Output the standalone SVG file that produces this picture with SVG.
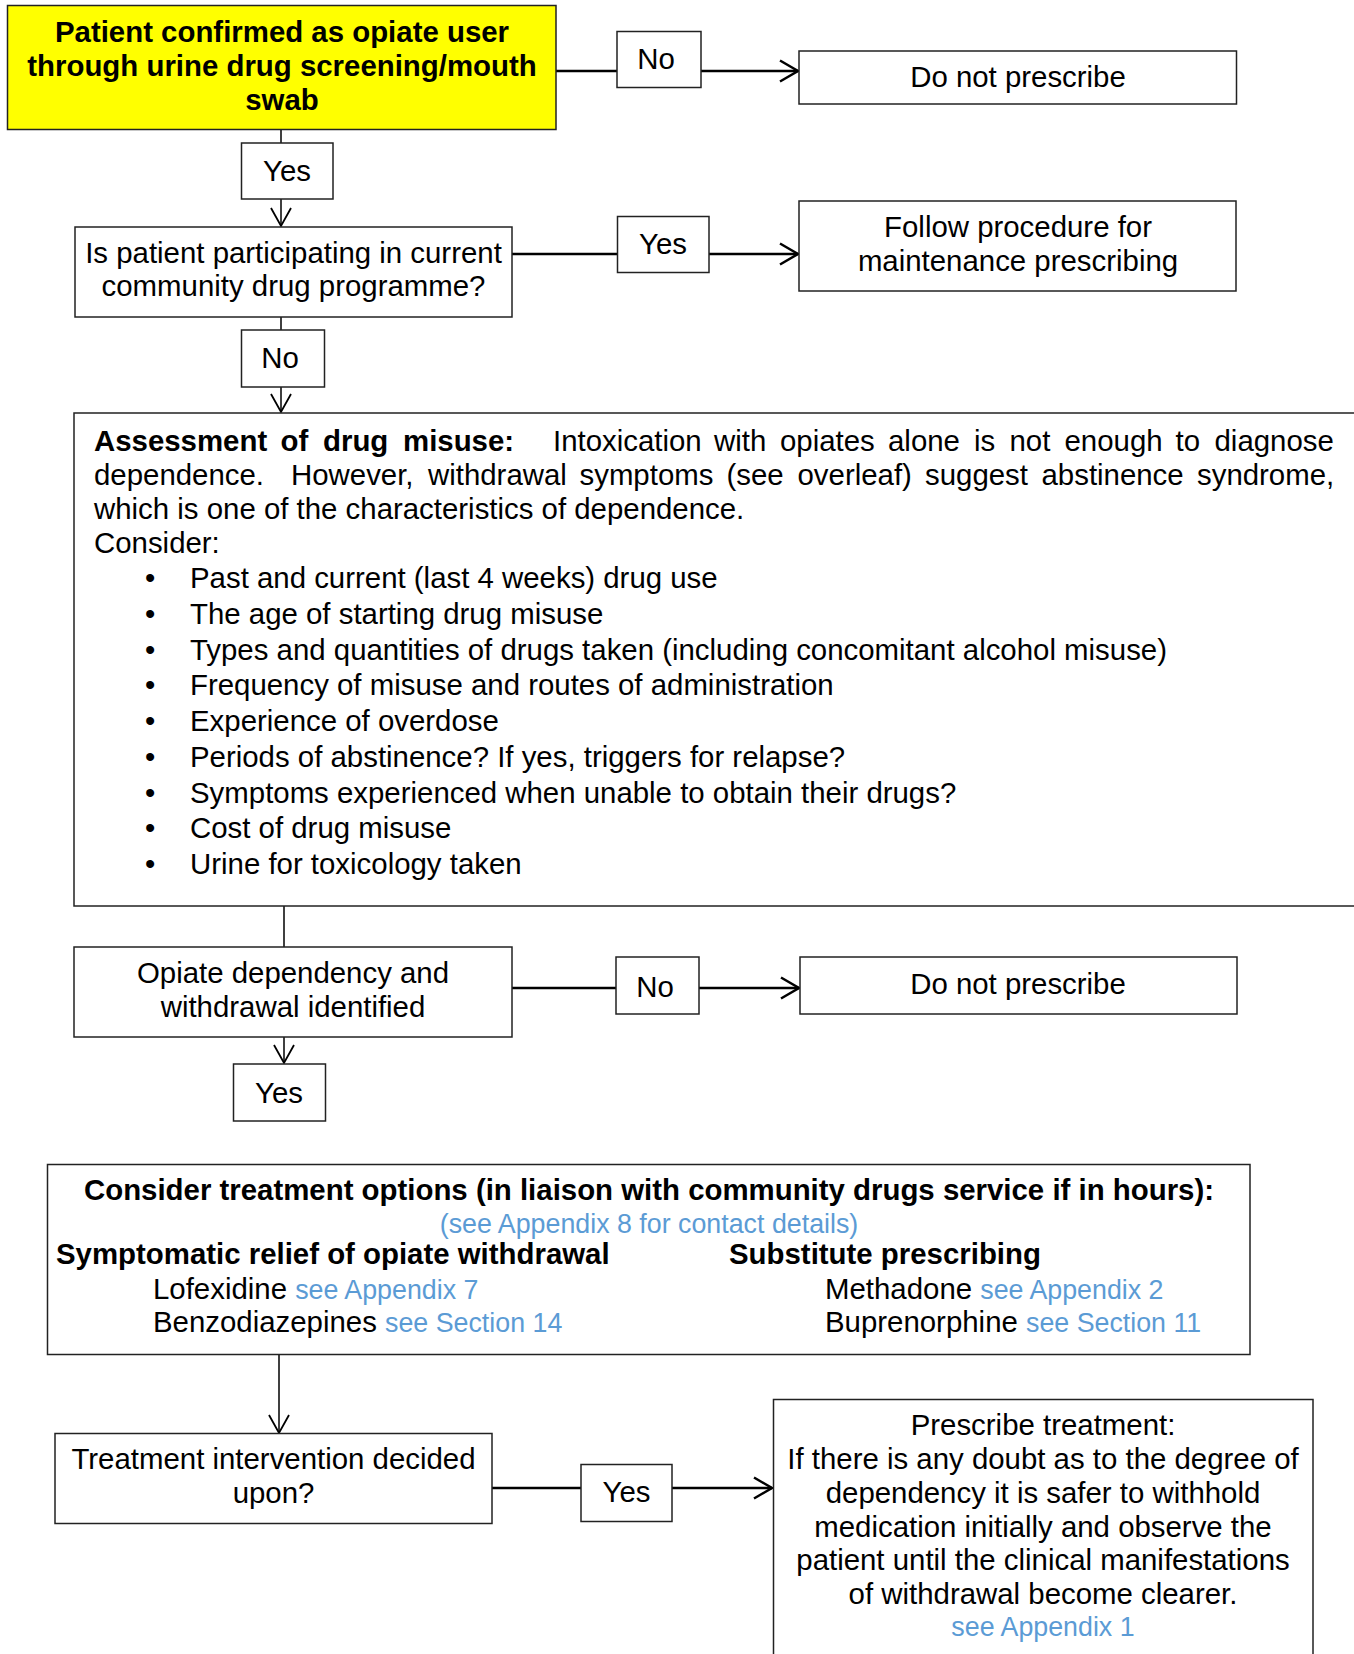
<svg xmlns="http://www.w3.org/2000/svg" width="1354" height="1654" viewBox="0 0 1354 1654">
<style>
text{font-family:"Liberation Sans",Arial,sans-serif;font-size:29.4px;fill:#000}
.c{text-anchor:middle}
.b{font-weight:bold}
.lk{fill:#5b9bd5;font-size:26.8px}
.box{fill:#fff;stroke:#222;stroke-width:1.5}
.hl{fill:none;stroke:#000;stroke-width:2.5}
.vl{fill:none;stroke:#000;stroke-width:1.5}
</style>
<defs>
<marker id="ah" markerUnits="userSpaceOnUse" markerWidth="22" markerHeight="24" refX="18" refY="11" orient="auto" overflow="visible">
<path d="M0,0.5 L18,11 L0,21.5" fill="none" stroke="#000" stroke-width="2.5"/>
</marker>
<marker id="av" markerUnits="userSpaceOnUse" markerWidth="22" markerHeight="24" refX="18" refY="10" orient="auto" overflow="visible">
<path d="M0,0 L18,10 L0,20" fill="none" stroke="#000" stroke-width="1.8"/>
</marker>
</defs>
<rect width="1354" height="1654" fill="#fff"/>

<g id="connectors">
<line class="hl" x1="556" y1="71" x2="617" y2="71"/>
<line class="hl" x1="701" y1="71" x2="798" y2="71" marker-end="url(#ah)"/>
<line class="vl" x1="281" y1="130" x2="281" y2="143"/>
<line class="vl" x1="281" y1="199" x2="281" y2="226" marker-end="url(#av)"/>
<line class="hl" x1="512" y1="254" x2="617" y2="254"/>
<line class="hl" x1="709" y1="254" x2="798" y2="254" marker-end="url(#ah)"/>
<line class="vl" x1="281" y1="317" x2="281" y2="330"/>
<line class="vl" x1="281" y1="387" x2="281" y2="412" marker-end="url(#av)"/>
<line class="vl" x1="284" y1="906" x2="284" y2="947"/>
<line class="hl" x1="512" y1="988" x2="616" y2="988"/>
<line class="hl" x1="699" y1="988" x2="799" y2="988" marker-end="url(#ah)"/>
<line class="vl" x1="284" y1="1037" x2="284" y2="1063" marker-end="url(#av)"/>
<line class="vl" x1="279" y1="1355" x2="279" y2="1433" marker-end="url(#av)"/>
<line class="hl" x1="492" y1="1488" x2="581" y2="1488"/>
<line class="hl" x1="672" y1="1488" x2="772" y2="1488" marker-end="url(#ah)"/>
</g>

<g id="start">
<rect x="7.5" y="5.5" width="548.5" height="124" fill="#ffff00" stroke="#222" stroke-width="1.5"/>
<text class="c b" x="282" y="42">Patient confirmed as opiate user</text>
<text class="c b" x="282" y="76">through urine drug screening/mouth</text>
<text class="c b" x="282" y="110">swab</text>
</g>

<g id="lbl-no1">
<rect class="box" x="617" y="31.5" width="84" height="56"/>
<text class="c" x="656" y="69">No</text>
</g>

<g id="dnp1">
<rect class="box" x="799" y="51" width="437.5" height="53"/>
<text class="c" x="1018" y="87">Do not prescribe</text>
</g>

<g id="lbl-yes1">
<rect class="box" x="241.5" y="143" width="91.5" height="56"/>
<text class="c" x="287" y="181">Yes</text>
</g>

<g id="question">
<rect class="box" x="75" y="227" width="437" height="90"/>
<text class="c" x="293.5" y="263">Is patient participating in current</text>
<text class="c" x="293.5" y="296">community drug programme?</text>
</g>

<g id="lbl-yes2">
<rect class="box" x="617.5" y="216.5" width="91.5" height="56"/>
<text class="c" x="663" y="254">Yes</text>
</g>

<g id="follow">
<rect class="box" x="799" y="201" width="437" height="90"/>
<text class="c" x="1018" y="237">Follow procedure for</text>
<text class="c" x="1018" y="271">maintenance prescribing</text>
</g>

<g id="lbl-no2">
<rect class="box" x="241.5" y="330" width="83" height="57"/>
<text class="c" x="280" y="368">No</text>
</g>

<g id="assessment">
<rect class="box" x="74" y="413" width="1290" height="493"/>
<text class="b" y="451"><tspan x="94">Assessment</tspan><tspan x="280.5">of</tspan><tspan x="323">drug</tspan><tspan x="403">misuse:</tspan></text>
<text y="451"><tspan x="553">Intoxication</tspan><tspan x="714">with</tspan><tspan x="780">opiates</tspan><tspan x="888">alone</tspan><tspan x="974">is</tspan><tspan x="1009.5">not</tspan><tspan x="1064.5">enough</tspan><tspan x="1175.5">to</tspan><tspan x="1214.5">diagnose</tspan></text>
<text y="485"><tspan x="94">dependence.</tspan><tspan x="291">However,</tspan><tspan x="428">withdrawal</tspan><tspan x="579.5">symptoms</tspan><tspan x="726.5">(see</tspan><tspan x="797.5">overleaf)</tspan><tspan x="925">suggest</tspan><tspan x="1041.5">abstinence</tspan><tspan x="1197">syndrome,</tspan></text>
<text x="94" y="519">which is one of the characteristics of dependence.</text>
<text x="94" y="553">Consider:</text>
<text x="145" y="588">•</text><text x="190" y="588">Past and current (last 4 weeks) drug use</text>
<text x="145" y="624">•</text><text x="190" y="624">The age of starting drug misuse</text>
<text x="145" y="660">•</text><text x="190" y="660">Types and quantities of drugs taken (including concomitant alcohol misuse)</text>
<text x="145" y="695">•</text><text x="190" y="695">Frequency of misuse and routes of administration</text>
<text x="145" y="731">•</text><text x="190" y="731">Experience of overdose</text>
<text x="145" y="767">•</text><text x="190" y="767">Periods of abstinence? If yes, triggers for relapse?</text>
<text x="145" y="803">•</text><text x="190" y="803">Symptoms experienced when unable to obtain their drugs?</text>
<text x="145" y="838">•</text><text x="190" y="838">Cost of drug misuse</text>
<text x="145" y="874">•</text><text x="190" y="874">Urine for toxicology taken</text>
</g>

<g id="opiate">
<rect class="box" x="74" y="947" width="438" height="90"/>
<text class="c" x="293" y="983">Opiate dependency and</text>
<text class="c" x="293" y="1017">withdrawal identified</text>
</g>

<g id="lbl-no3">
<rect class="box" x="616" y="957" width="83" height="57"/>
<text class="c" x="655" y="997">No</text>
</g>

<g id="dnp2">
<rect class="box" x="800" y="957" width="437" height="57"/>
<text class="c" x="1018" y="994">Do not prescribe</text>
</g>

<g id="lbl-yes3">
<rect class="box" x="233.5" y="1064" width="92" height="57"/>
<text class="c" x="279" y="1103">Yes</text>
</g>

<g id="consider">
<rect class="box" x="47.5" y="1164.5" width="1202.5" height="190"/>
<text class="c b" x="649" y="1200">Consider treatment options (in liaison with community drugs service if in hours):</text>
<text class="c lk" x="649" y="1233">(see Appendix 8 for contact details)</text>
<text class="b" x="56" y="1264">Symptomatic relief of opiate withdrawal</text>
<text class="b" x="729" y="1264">Substitute prescribing</text>
<text x="153" y="1299">Lofexidine <tspan class="lk">see Appendix 7</tspan></text>
<text x="153" y="1332">Benzodiazepines <tspan class="lk">see Section 14</tspan></text>
<text x="825" y="1299">Methadone <tspan class="lk">see Appendix 2</tspan></text>
<text x="825" y="1332">Buprenorphine <tspan class="lk">see Section 11</tspan></text>
</g>

<g id="treatment">
<rect class="box" x="55" y="1433.5" width="437" height="90"/>
<text class="c" x="273.5" y="1469">Treatment intervention decided</text>
<text class="c" x="273.5" y="1503">upon?</text>
</g>

<g id="lbl-yes4">
<rect class="box" x="581" y="1464.5" width="91" height="57"/>
<text class="c" x="626.5" y="1502">Yes</text>
</g>

<g id="prescribe">
<rect class="box" x="773.5" y="1399.5" width="539.5" height="270"/>
<text class="c" x="1043" y="1435">Prescribe treatment:</text>
<text class="c" x="1043" y="1469">If there is any doubt as to the degree of</text>
<text class="c" x="1043" y="1503">dependency it is safer to withhold</text>
<text class="c" x="1043" y="1537">medication initially and observe the</text>
<text class="c" x="1043" y="1570">patient until the clinical manifestations</text>
<text class="c" x="1043" y="1604">of withdrawal become clearer.</text>
<text class="c lk" x="1043" y="1636">see Appendix 1</text>
</g>
</svg>
